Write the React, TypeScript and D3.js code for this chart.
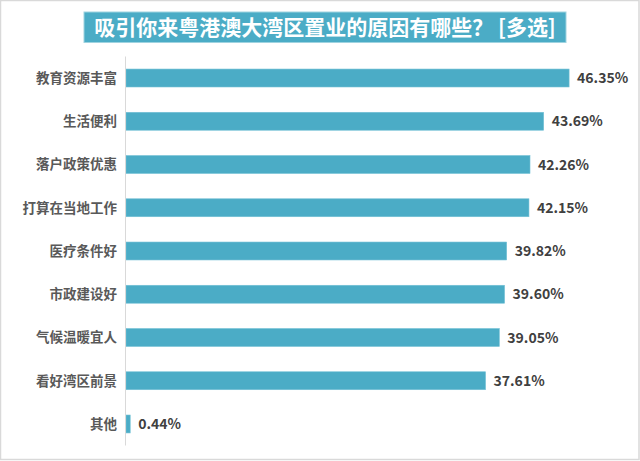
import React from "react";
import * as d3 from "d3";

const categories = ["教育资源丰富", "生活便利", "落户政策优惠", "打算在当地工作", "医疗条件好", "市政建设好", "气候温暖宜人", "看好湾区前景", "其他"];
const values = [46.35, 43.69, 42.26, 42.15, 39.82, 39.6, 39.05, 37.61, 0.44];
const title = "吸引你来粤港澳大湾区置业的原因有哪些？ [多选]";

const W = 640;
const H = 461;
const BAR = "#4bacc6";

export default function App() {
  const x = d3.scaleLinear().domain([0, 50]).range([126, 604]);
  const y = d3.scaleBand<string>().domain(categories).range([56.5, 445.5]).paddingInner(0.585).paddingOuter(0.29);
  const font = "'Noto Sans CJK SC', 'Microsoft YaHei', sans-serif";
  return (
    <svg width={W} height={H} style={{ position: "absolute", left: 0, top: 0, background: "#fff" }} fontFamily={font}>
      <rect x={0.5} y={0.5} width={638.5} height={459} fill="#fff" stroke="#d9d9d9" strokeWidth={1.5} />
      <rect x={84} y={12} width={482} height={30.5} fill={BAR} stroke="#9fd3e0" strokeWidth={1} />
      <text x={325} y={34.5} textAnchor="middle" fill="#fff" fontSize={21} fontWeight={700}>{title}</text>
      {categories.map((c, i) => (
        <g key={c}>
          <rect x={x(0)} y={y(c)} width={x(values[i]) - x(0)} height={y.bandwidth()} fill={BAR} stroke="#74c1d6" strokeWidth={0.6} />
          <text x={117} y={(y(c) as number) + y.bandwidth() / 2} dy="0.36em" textAnchor="end" fill="#595959" fontSize={13.5} fontWeight={700}>{c}</text>
          <text x={x(values[i]) + 8} y={(y(c) as number) + y.bandwidth() / 2} dy="0.36em" fill="#404040" fontSize={14} fontWeight={700}>{values[i].toFixed(2) + "%"}</text>
        </g>
      ))}
      <line x1={125.5} x2={125.5} y1={56.5} y2={445.5} stroke="#d9d9d9" strokeWidth={1} />
    </svg>
  );
}
